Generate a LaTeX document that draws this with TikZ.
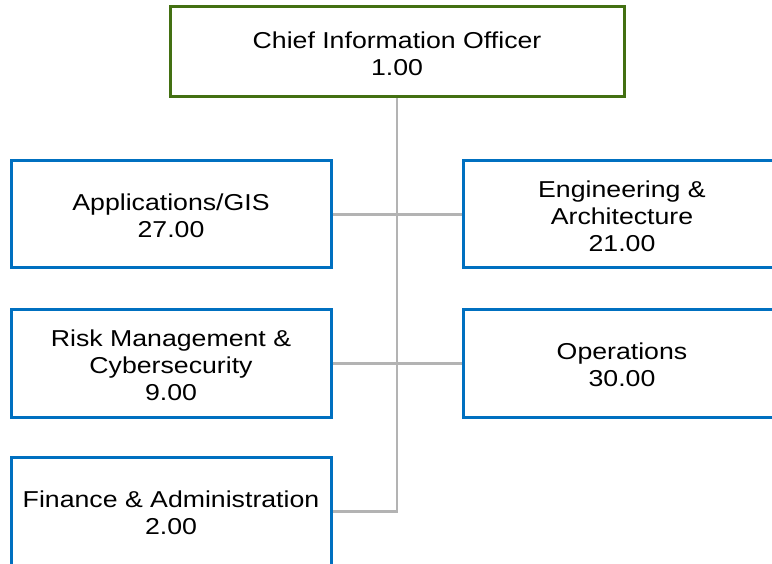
\documentclass[tikz,border=0pt]{standalone}
\usepackage{fontspec}
\setmainfont{Liberation Sans}
\definecolor{boxblue}{HTML}{0070C0}
\definecolor{boxgreen}{HTML}{437012}
\definecolor{linegray}{HTML}{B3B3B3}
\newcommand\stretchtext[1]{\raisebox{-4.5pt}[\height][\depth]{\scalebox{1.16}[1]{\begin{tabular}{@{}c@{}}#1\end{tabular}}}}
\begin{document}
\begin{tikzpicture}[x=1pt,y=-1pt,
  box/.style={draw=boxblue, line width=3pt, fill=white, rectangle, inner sep=0pt,
    align=center, font=\fontsize{23}{27}\selectfont, minimum width=320pt},
  topbox/.style={box, draw=boxgreen, minimum width=454pt, minimum height=90pt},
  conn/.style={draw=linegray, line width=2.5pt}]
\useasboundingbox (0,0) rectangle (772,564);
\clip (0,0) rectangle (772,564);
\node[topbox] (cio) at (397,52) {\stretchtext{Chief Information Officer\\1.00}};
\node[box, minimum height=107pt] (app) at (171,214.5) {\stretchtext{Applications/GIS\\27.00}};
\node[box, minimum height=107pt, minimum width=318pt] (eng) at (622,214.5) {\stretchtext{Engineering \&\\Architecture\\21.00}};
\node[box, minimum height=107pt] (risk) at (171,363.5) {\stretchtext{Risk Management \&\\Cybersecurity\\9.00}};
\node[box, minimum height=107pt, minimum width=318pt] (ops) at (622,363.5) {\stretchtext{Operations\\30.00}};
\node[box, minimum height=109pt] (fin) at (171,511.5) {\stretchtext{Finance \& Administration\\2.00}};
\draw[conn] (cio.south) |- (fin.east);
\draw[conn] (app.east) -- (eng.west);
\draw[conn] (risk.east) -- (ops.west);
\end{tikzpicture}
\end{document}
